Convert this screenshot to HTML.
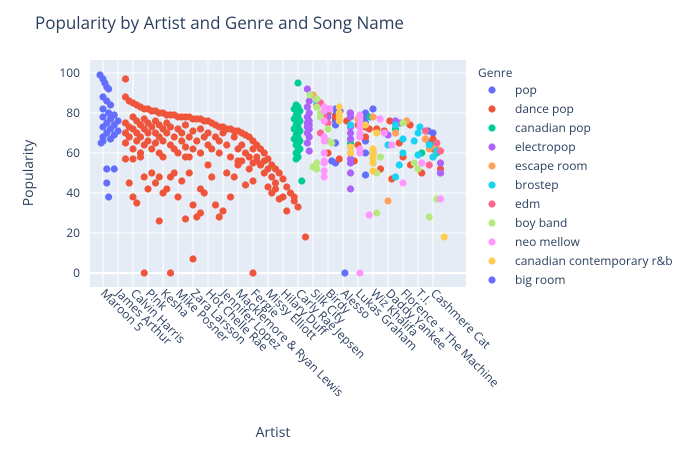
<!DOCTYPE html>
<html><head><meta charset="utf-8"><style>
body{margin:0;background:#fff;font-family:"Liberation Sans",sans-serif}
svg text{font-family:"Open Sans","Liberation Sans",sans-serif;fill:#2a3f5f}
</style></head><body>
<svg id="chart" width="700" height="450">
<rect x="0" y="0" width="700" height="450" fill="#fff"/>
<text x="35" y="29" font-size="17">Popularity by Artist and Genre and Song Name</text>
<rect x="90" y="60" width="376" height="227" fill="#e5ecf6"/>
<g id="grid"></g><g id="marks"></g><g id="xticks"></g><g id="yticks"></g>
<text x="273" y="437" font-size="14" text-anchor="middle">Artist</text>
<text transform="translate(33,173) rotate(-90)" font-size="14" text-anchor="middle">Popularity</text>
<g id="legend"></g>
</svg>
<script>
const labels=["Maroon 5","James Arthur","Calvin Harris","P!nk","Kesha","Mike Posner","Zara Larsson","Hot Chelle Rae","Jennifer Lopez","Macklemore & Ryan Lewis","Fergie","Missy Elliott","Hilary Duff","Carly Rae Jepsen","Silk City","Birdy","Alesso","Lukas Graham","Wiz Khalifa","Daddy Yankee","Florence + The Machine","T.I.","Cashmere Cat"];
const yTicks=[0,20,40,60,80,100];
const genres=["pop","dance pop","canadian pop","electropop","escape room","brostep","edm","boy band","neo mellow","canadian contemporary r&b","big room"];
const colors=["#636efa","#EF553B","#00cc96","#ab63fa","#FFA15A","#19d3f3","#FF6692","#B6E880","#FF97FF","#FECB52","#636efa"];
const popPts=[[-0.8,99],[0,97],[0.5,95],[1,93],[1.5,92],[0,88],[1,86],[2,84],[0,82],[1.5,80],[3,79],[0,78],[2,77],[4,76],[1,75],[3,74],[0,73],[2,72],[4,71],[1,70],[3,69],[0,68],[2,67],[0,66],[-0.5,65],[1,52],[3,52],[1,45],[1.5,38],[62,82],[62,79],[62,77],[62,76],[62,74],[62,65],[61,56],[62,55],[70,80],[70,78],[70,75],[70,66],[70,60],[70,49],[87,65],[88,70],[72,82],[63.2,81],[86.7,71]];
const dancePts=[[6,88],[7,86],[8,85],[9,84],[10,83],[11,82],[12,82],[13,81],[14,81],[15,80],[16,80],[17,79],[18,79],[19,79],[20,78],[21,78],[22,78],[23,78],[24,77],[25,77],[26,77],[27,76],[28,76],[29,75],[30,74],[31,73],[32,73],[33,72],[34,72],[35,71],[36,71],[37,70],[38,69],[39,68],[40,66],[41,64],[42,62],[43,60],[44,57],[45,54],[46,52],[47,50],[48,47],[49,43],[50,40],[51,36],[52,33],[54,18],
[6,75],[6,70],[6,65],[7,73],[7,68],[8,78],[8,72],[8,62],[9,76],[9,70],[9,66],[10,74],[10,68],[10,60],[11,77],[11,72],[11,64],[12,75],[12,70],[12,66],[13,73],[13,62],[14,76],[14,70],[14,65],[15,74],[15,68],[15,60],[16,72],[16,66],[16,58],[17,75],[17,70],[18,73],[18,64],[19,68],[19,62],[20,72],[20,60],[21,70],[21,66],[22,74],[22,63],[23,68],[23,58],[24,71],[24,62],[25,66],[26,72],[26,60],[27,68],[28,70],[28,64],[29,62],[30,68],[31,66],[31,60],[32,70],[33,64],[34,58],[35,68],[36,62],[36,56],[37,64],[38,60],[39,58],[40,62],[40,55],[41,58],[42,54],[43,56],[44,52],[45,48],[46,45],
[6,57],[7,45],[8,57],[8,38],[9,35],[10,58],[11,48],[12,42],[13,50],[14,45],[15,48],[16,40],[17,42],[18,48],[19,50],[20,38],[21,46],[22,58],[23,50],[24,34],[25,28],[26,30],[27,40],[28,54],[29,48],[30,34],[31,28],[32,31],[33,50],[34,38],[35,48],[36,54],[37,56],[38,44],[39,52],[40,46],[41,56],[42,54],[43,50],[44,43],[45,40],[46,42],[47,37],[48,38],[49,31],[51,38],[24,7],[11,0],[18,0],[40,0],[6,97],[15,26],[22,27],[26,42],
[57,84],[60,80],[62,78],[65,76],[68,74],[70,73],[73,72],[75,71],[60,60],[68,64],[72,60],[74,52],[77,47],[80,58],[82,54],[85,50],[70,68],[63,57],[67,56],[71,72],[79,65],[86,67],[88,62],[90,52],[90,50],[65.9,80],[76.5,76],[81.9,74],[88,67]];
const canPopPts=[[52,95],[51.5,84],[52,83],[51,82],[52.5,81],[52,80],[51.5,79],[52,78],[51,77],[52.5,76],[52,75],[51.5,74],[52,73],[51,72],[52.5,71],[52,70],[51.5,69],[52,68],[51,67],[52.5,66],[52,65],[51.5,64],[52,63],[52.5,62],[52,61],[51.5,60],[52,58],[51.5,57],[53,46],[66,65],[78,72],[88,64],[89,60],[85,60],[71.2,78]];
const electroPts=[[54.5,92],[55,86],[54.5,83],[55,80],[54.5,78],[55,76],[54.5,75],[55,74],[54.5,73],[55,72],[54.5,70],[55,68],[54.5,65],[55,61],[66,80],[66,78],[66,73],[66,70],[66,67],[66,63],[66,60],[66,57],[66,55],[66,50],[66,42],[78,76],[76,69],[60,78],[90,55],[90,50],[88,58],[72,61],[79.2,75]];
const escapePts=[[56,89],[68,77],[72,78],[78,70],[86,67],[87,62],[89,61],[76,36],[88,58],[81,76],[88.8,63]];
const brostepPts=[[57,86],[60,82],[78,74],[80,67],[80,60],[79,54],[76,64],[87,64],[89,61],[88,58],[84,70],[83,66],[84,59],[66,74],[78,48],[57.9,85],[84.5,73]];
const edmPts=[[58,85],[59,78],[58,70],[86,71],[89,65],[90,61],[60,75],[87,54]];
const boyPts=[[57,87],[57,83],[60,72],[60,66],[61,65],[57,55],[57,52],[56,53],[58,80],[58,78],[73,70],[72,61],[74,58],[73,50],[73,30],[87,28],[83,55],[84,52],[80,75],[89,37],[55.2,89]];
const neoPts=[[59,83],[59,81],[59,76],[59,68],[59,66],[59,60],[59,56],[59,55],[59,51],[59,48],[68.5,78],[68.5,75],[68.5,73],[68.5,70],[68.5,68],[68.5,62],[68.5,60],[77,64],[85,55],[80,45],[90,37],[68.5,0],[71,29],[75,70],[60.5,82],[68.5,79],[73.9,77]];
const rnbPts=[[63,83],[63,80],[63,78],[63,76],[66,63],[66,60],[72,62],[72,59],[72,57],[72,55],[72,51],[73,70],[91,18],[70,74]];
const bigRoomPts=[[64.5,0]];
const series=[popPts,dancePts,canPopPts,electroPts,escapePts,brostepPts,edmPts,boyPts,neoPts,rnbPts,bigRoomPts];
const NS="http://www.w3.org/2000/svg";
const xs=i=>103+i*3.75, ys=v=>273-2*v;
function mk(t,a,p){const e=document.createElementNS(NS,t);for(const k in a)e.setAttribute(k,a[k]);p.appendChild(e);return e;}
const grid=document.getElementById('grid'),xt=document.getElementById('xticks'),yt=document.getElementById('yticks');
labels.forEach((l,i)=>{const x=xs(i*4);
 const g=mk('line',{x1:x,x2:x,y1:60,y2:287,stroke:'#fff','stroke-width':1},grid);
 
 
 const t=mk('text',{transform:`translate(${x-3},${294}) rotate(45)`,'font-size':12},xt);t.textContent=l;
 
 
});
yTicks.forEach(v=>{const y=ys(v);
 const g=mk('line',{x1:90,x2:466,y1:y,y2:y,stroke:'#fff','stroke-width':v===0?2:1},grid);
 
 
 const t=mk('text',{x:80,y:y+4,'font-size':12,'text-anchor':'end'},yt);t.textContent=v;
 
 
});
const marks=document.getElementById('marks');
series.forEach((s,gi)=>s.forEach(p=>{
 const c=mk('circle',{cx:xs(p[0]),cy:ys(p[1]),r:3.6,fill:colors[gi]},marks);
 
 
}));
const lg=document.getElementById('legend');
const lt=mk('text',{x:478,y:77,'font-size':12},lg);lt.textContent='Genre';


genres.forEach((g,i)=>{const y=90+i*19;
 const c=mk('circle',{cx:492,cy:y,r:3.6,fill:colors[i]},lg);
 
 
 const t=mk('text',{x:515,y:y+4,'font-size':12},lg);t.textContent=g;
 
 
});
</script>
</body></html>
